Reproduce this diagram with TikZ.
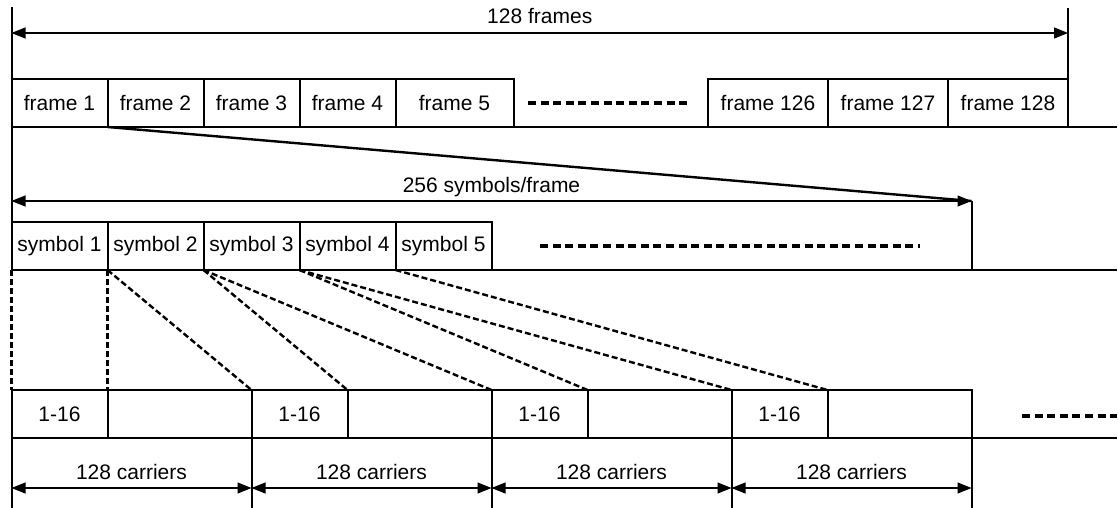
\documentclass[tikz,border=0pt]{standalone}
\usepackage{fontspec}
\setmainfont{Liberation Sans}
\usetikzlibrary{positioning,arrows.meta}

\tikzset{
  cell/.style={draw, line width=1pt, minimum height=24pt, inner sep=0pt, outer sep=0pt,
    font=\fontsize{10.5}{12}\selectfont},
  rule/.style={line width=1pt},
  dimline/.style={line width=0.6pt, {Triangle[length=7pt,width=5.5pt]}-{Triangle[length=7pt,width=5.5pt]}},
  dimlabel/.style={anchor=base, yshift=4.5pt, font=\fontsize{10.5}{12}\selectfont},
  gap/.style={line width=2pt, dash pattern=on 4pt off 2.3pt},
  link/.style={line width=1.2pt, dash pattern=on 3pt off 1.5pt}
}

\begin{document}
\begin{tikzpicture}[x=0.5pt, y=-0.5pt]
\useasboundingbox (0,0) rectangle (1118,508);

% Frame row
\node[cell, minimum width=48pt, anchor=north west] (f1) at (11.5,79) {frame 1};
\foreach \i [count=\j from 1] in {2,3,4}
  \node[cell, minimum width=48pt, right=0pt of f\j] (f\i) {frame \i};
\node[cell, minimum width=59pt, right=0pt of f4] (f5) {frame 5};
\node[cell, minimum width=60pt, anchor=north west] (f126) at (708,79) {frame 126};
\node[cell, minimum width=60pt, right=0pt of f126] (f127) {frame 127};
\node[cell, minimum width=60pt, right=0pt of f127] (f128) {frame 128};
\draw[gap] (528,103) -- (688,103);

\coordinate (lefttop) at (11.5,7);
\coordinate (leftbot) at (11.5,508);
\coordinate (righttop) at (1068,8);
\coordinate (fend) at (1117,127);
\draw[rule] (f1.south west) -- (fend);
\draw[rule] (righttop) -- (f128.south east);

% 128 frames
\coordinate (fleft) at (11.5,33);
\coordinate (fright) at (1068,33);
\draw[dimline] (fleft) -- node[dimlabel] {128 frames} (fright);

% 256 symbols/frame
\coordinate (sleft) at (11.5,201);
\coordinate (sright) at (971.5,201);
\coordinate (send) at (1117,270);
\draw[line width=1.2pt] (f2.south west) -- (sright);
\draw[dimline] (sleft) -- node[dimlabel] {256 symbols/frame} (sright);
\draw[rule] (sright) -- (sright |- send);

% Symbol row
\node[cell, minimum width=48pt, anchor=north west] (s1) at (11.5,222) {symbol 1};
\foreach \i [count=\j from 1] in {2,...,5}
  \node[cell, minimum width=48pt, right=0pt of s\j] (s\i) {symbol \i};
\draw[gap] (540,246) -- (920,246);
\draw[rule] (s1.south west) -- (send);

% Carrier row
\foreach \i [count=\j from 0] in {1,...,4} {
  \node[cell, minimum width=48pt, anchor=north west] (k\i) at (11.5+240*\j,390) {1-16};
  \node[cell, minimum width=72pt, right=0pt of k\i] (e\i) {};
}
\coordinate (cend) at (1117,438);
\draw[rule] (k1.south west) -- (cend);
\draw[gap] (1022,416) -- (1117,416);

% Left edge
\draw[rule] (lefttop) -- (s1.south west);
\draw[link] (s1.south west) -- (k1.north west);
\draw[rule] (k1.north west) -- (leftbot);

% Symbols to carriers
\foreach \a/\b in {s2/k1, s2/e1, s3/k2, s3/e2, s4/k3, s4/e3, s5/k4}
  \draw[link] (\a.south west) -- (\b.north east);

% 128 carriers
\coordinate (arrowrow) at (0,488);
\foreach \i in {1,...,4} {
  \draw[rule] (e\i.south east) -- (e\i.south east |- leftbot);
  \draw[dimline] (k\i.south west |- arrowrow) -- node[dimlabel] {128 carriers} (e\i.south east |- arrowrow);
}
\end{tikzpicture}
\end{document}
